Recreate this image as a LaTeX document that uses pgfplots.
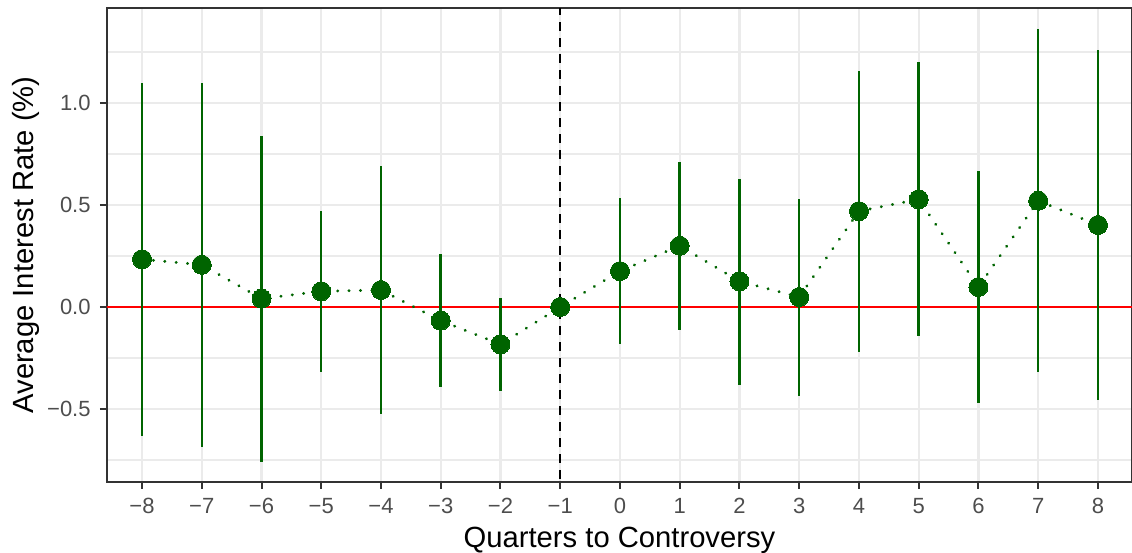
\documentclass[border=0pt]{standalone}
\usepackage{pgfplots}
\pgfplotsset{compat=1.18}
\usepackage{fontspec}
\setmainfont{Liberation Sans}
\definecolor{dgreen}{RGB}{0,100,0}
\definecolor{gridgrey}{RGB}{235,235,235}
\definecolor{bordergrey}{RGB}{51,51,51}
\definecolor{tickgrey}{RGB}{77,77,77}
\begin{document}
\begin{tikzpicture}
\begin{axis}[
  scale only axis,
  width=512.5pt, height=237pt,
  xmin=-8.586, xmax=8.57,
  ymin=-0.858, ymax=1.466,
  axis line style={bordergrey, line width=1pt},
  xtick={-8,-7,-6,-5,-4,-3,-2,-1,0,1,2,3,4,5,6,7,8},
  xticklabels={−8,−7,−6,−5,−4,−3,−2,−1,0,1,2,3,4,5,6,7,8},
  ytick={-0.5,0,0.5,1},
  yticklabels={−0.5,0.0,0.5,1.0},
  minor ytick={-0.75,-0.25,0.25,0.75,1.25},
  tick align=outside,
  tick pos=left,
  major tick length=3.5pt,
  minor tick length=0pt,
  tick style={bordergrey, line width=1pt},
  grid=both,
  major grid style={gridgrey, line width=1.1pt},
  minor grid style={gridgrey, line width=0.6pt},
  ticklabel style={font=\fontsize{11}{13}\selectfont, text=tickgrey},
  xticklabel style={inner sep=0pt, yshift=-4.5pt},
  yticklabel style={inner sep=0pt, xshift=-4.5pt},
  xlabel={Quarters to Controversy},
  ylabel={Average Interest Rate (\%)},
  label style={font=\fontsize{14.6}{17}\selectfont, text=black, inner sep=0pt},
  xlabel style={at={(axis description cs:0.5,-0.1392)}, anchor=base},
  ylabel style={at={(axis description cs:-0.0927,0.5)}, anchor=north, rotate=0},
  clip=true,
]
\addplot[red, line width=1pt, forget plot] coordinates {(-9,0) (9,0)};
\addplot[black, line width=1pt, dash pattern=on 4.5pt off 3.5pt, forget plot] coordinates {(-1,-1) (-1,2)};
\addplot[dgreen, line width=1.5pt, line cap=round, dash pattern=on 0.1pt off 5.6pt, forget plot] coordinates {
(-8,0.234) (-7,0.207) (-6,0.041) (-5,0.077) (-4,0.083) (-3,-0.067) (-2,-0.183) (-1,0)
(0,0.176) (1,0.300) (2,0.126) (3,0.049) (4,0.470) (5,0.528) (6,0.098) (7,0.521) (8,0.402)};
\addplot[draw=none, mark=none, forget plot,
  error bars/.cd, y dir=both, y explicit, error mark=none,
  error bar style={dgreen, line width=1.25pt}] coordinates {
(-8,0.234) +- (0,0.866) -= (0,0.865)
(-7,0.207) +- (0,0.893) -= (0,0.895)
(-6,0.041) +- (0,0.797) -= (0,0.802)
(-5,0.077) +- (0,0.393) -= (0,0.397)
(-4,0.083) +- (0,0.608) -= (0,0.609)
(-3,-0.067) +- (0,0.327) -= (0,0.327)
(-2,-0.183) +- (0,0.227) -= (0,0.227)
(-1,0) +- (0,0) -= (0,0)
(0,0.176) +- (0,0.358) -= (0,0.359)
(1,0.300) +- (0,0.412) -= (0,0.413)
(2,0.126) +- (0,0.504) -= (0,0.508)
(3,0.049) +- (0,0.479) -= (0,0.484)
(4,0.470) +- (0,0.687) -= (0,0.689)
(5,0.528) +- (0,0.672) -= (0,0.669)
(6,0.098) +- (0,0.567) -= (0,0.567)
(7,0.521) +- (0,0.840) -= (0,0.840)
(8,0.402) +- (0,0.858) -= (0,0.858)};
\addplot[dgreen, only marks, mark=*, mark size=4.75pt, mark options={fill=dgreen, draw=dgreen, line width=0pt}, forget plot] coordinates {
(-8,0.234) (-7,0.207) (-6,0.041) (-5,0.077) (-4,0.083) (-3,-0.067) (-2,-0.183) (-1,0)
(0,0.176) (1,0.300) (2,0.126) (3,0.049) (4,0.470) (5,0.528) (6,0.098) (7,0.521) (8,0.402)};
\end{axis}
\pgfresetboundingbox
\path[use as bounding box] ([xshift=-53.5pt,yshift=-35.5pt]current axis.south west) rectangle ([yshift=4pt]current axis.north east);
\end{tikzpicture}
\end{document}
